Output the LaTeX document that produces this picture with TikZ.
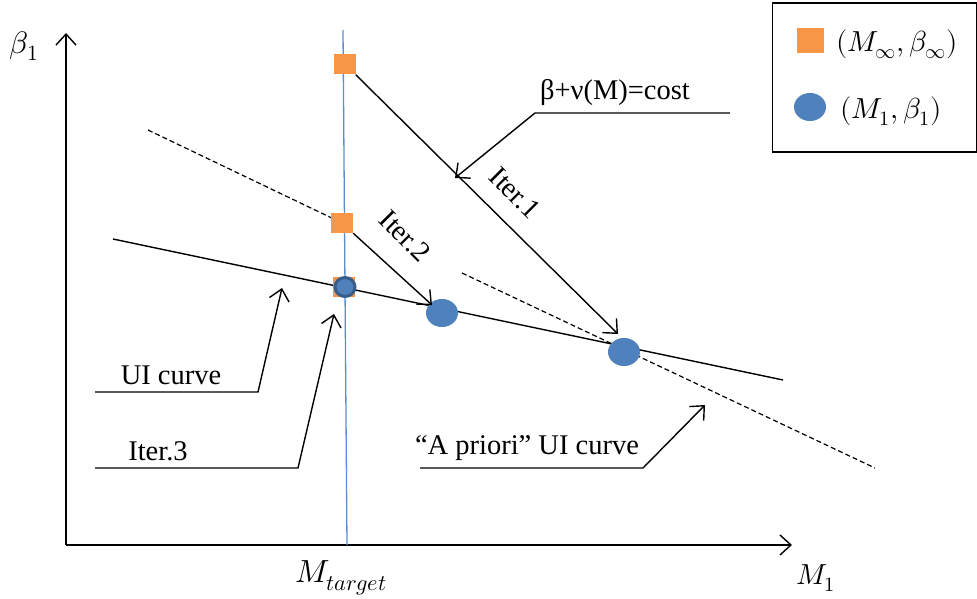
\documentclass[tikz,border=0pt]{standalone}
\usepackage{fontspec}
\usepackage{unicode-math}
\setmainfont{Liberation Serif}
\usetikzlibrary{arrows.meta,shapes.geometric}
\definecolor{sqorange}{HTML}{F79646}
\definecolor{dotblue}{HTML}{4F81BD}
\definecolor{dotedge}{HTML}{385D8A}
\definecolor{vblue}{HTML}{5B8FD0}
\begin{document}
\begin{tikzpicture}[x=1pt,y=-1pt,
  ln/.style={line width=1.4pt,black},
  arr/.style={ln,-{Straight Barb[length=11pt,width=20pt,line width=1.4pt]}},
  dsh/.style={line width=1.2pt,dash pattern=on 5pt off 3pt},
  txt/.style={font=\fontsize{28.5}{31}\selectfont,inner sep=0pt},
  mth/.style={font=\fontsize{29}{32}\selectfont,inner sep=0pt},
  sq/.style={fill=sqorange,draw=none,minimum width=22pt,minimum height=20pt,inner sep=0pt},
  dot/.style={ellipse,fill=dotblue,draw=none,minimum width=32pt,minimum height=28pt,inner sep=0pt}]
\useasboundingbox (0,0) rectangle (977,599);
% axes
\coordinate (O) at (66,545);
\coordinate (Ytop) at (66,33);
\coordinate (Xend) at (792,545);
\draw[arr] (O) -- (Ytop);
\draw[arr] (O) -- (Xend);
\node[mth,font=\fontsize{31}{34}\selectfont] (beta) at (24,46) {$\beta_1$};
\node[mth] (m1) at (816,578) {$M_1$};
\node[mth,font=\fontsize{32}{34}\selectfont] (mt) at (341,578) {$M_{target}$};
% vertical target line
\coordinate (vt) at (343,30);
\coordinate (vb) at (347,545);
\draw[vblue,line width=1.3pt] (vt) -- (vb);
% dashed a priori curve
\coordinate (d1) at (148,130);
\coordinate (d2) at (338,221);
\coordinate (d3) at (462,273);
\coordinate (d4) at (875,468);
\draw[dsh] (d1) -- (d2);
\draw[dsh] (d3) -- (d4);
% UI curve
\coordinate (u1) at (113,239);
\coordinate (u2) at (783,380);
\draw[ln] (u1) -- (u2);
% points
\node[sq] (s1) at (344.5,64.5) {};
\node[sq] (s2) at (342,223) {};
\node[sq] (s3) at (344,287) {};
\node[dot] (c1) at (442,313) {};
\node[dot] (c2) at (624,352) {};
\node[ellipse,fill=dotblue,draw=dotedge,line width=3pt,minimum width=20pt,minimum height=19pt,inner sep=0pt] (c3) at (345,287) {};
% iteration arrows
\coordinate (i1e) at (618,334);
\coordinate (i2e) at (432,305);
\draw[arr] (s1.south east) -- (i1e);
\draw[arr] (s2.south east) -- (i2e);
\node[txt,rotate=-45] (it1) at (515,193) {Iter.1};
\node[txt,rotate=-45] (it2) at (405,236) {Iter.2};
% callouts
\coordinate (b1) at (730,113);
\coordinate (b2) at (535,113);
\coordinate (b3) at (455,178);
\draw[arr] (b1) -- (b2) -- (b3);
\node[txt,anchor=south] (bt) at (615,106) {β+ν(M)=cost};
\coordinate (ua) at (95,392);
\coordinate (ub) at (258,392);
\coordinate (uc) at (282,288);
\draw[arr] (ua) -- (ub) -- (uc);
\node[txt,anchor=south] (ut) at (171,385) {UI curve};
\coordinate (ta) at (95,468);
\coordinate (tb) at (298,468);
\coordinate (tc) at (334,314);
\draw[arr] (ta) -- (tb) -- (tc);
\node[txt,anchor=south] (tt) at (158,461) {Iter.3};
\coordinate (aa) at (420,468);
\coordinate (ab) at (643,468);
\coordinate (ac) at (705,405);
\draw[arr] (aa) -- (ab) -- (ac);
\node[txt,anchor=south] (at) at (527,461) {“A priori” UI curve};
% legend
\node[draw,line width=1.2pt,minimum width=204pt,minimum height=149pt,inner sep=0pt] (leg) at (874.5,77.5) {};
\node[sq,minimum width=27pt,minimum height=25pt] (ls) at (810,41) {};
\node[mth,anchor=west] (lst) at (836,44) {$(M_\infty,\beta_\infty)$};
\node[dot] (lc) at (810,107) {};
\node[mth,anchor=west] (lct) at (840,111) {$(M_1,\beta_1)$};
\end{tikzpicture}
\end{document}
